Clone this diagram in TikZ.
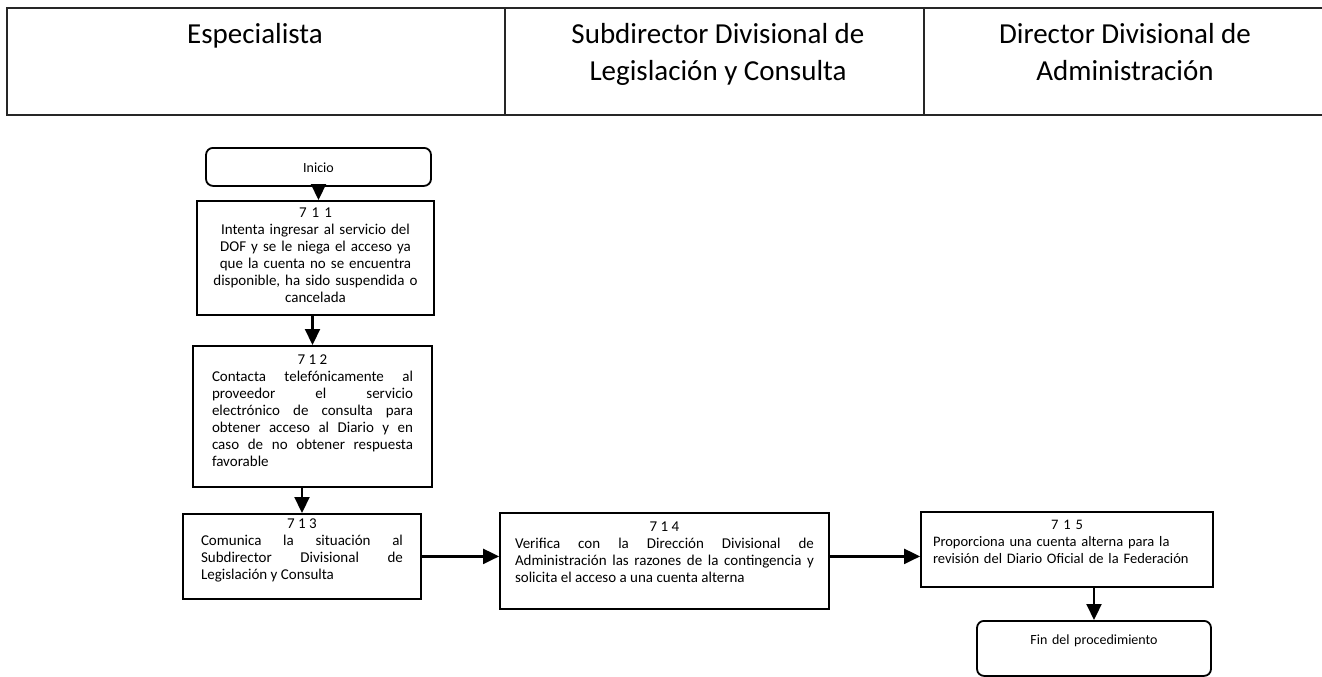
\documentclass[tikz,border=0pt]{standalone}
\usepackage{fontspec}
\setmainfont{Carlito}
\usetikzlibrary{arrows.meta,calc}
\setlength{\parindent}{0pt}
\newcommand{\stepnum}[1]{\hfill #1\hfill\null\par}
\tikzset{
  lanetext/.style={font=\fontsize{29}{37}\selectfont, align=center, anchor=north, inner sep=0pt},
  lane/.style={line width=1.2pt, draw=black!85},
  stepbox/.style={draw, line width=1.8pt, anchor=north, inner ysep=0pt,
    font=\fontsize{15}{17}\selectfont, align=justify},
  termbox/.style={draw, line width=1.8pt, rounded corners=7pt, anchor=north, inner ysep=0pt,
    font=\fontsize{14}{17}\selectfont, align=center},
  flow/.style={line width=2.2pt, -{Triangle[length=16pt,width=15pt]}}
}
\begin{document}
\begin{tikzpicture}[x=1pt,y=-1pt]
\useasboundingbox (0,0) rectangle (1322,677);
% header
\draw[lane] (1322,8) -- (7,8) -- (7,115) -- (1322,115);
\draw[lane] (505,8) -- (505,115);
\draw[lane] (924,8) -- (924,115);
\node[lanetext] (h1) at (255,23) {Especialista};
\node[lanetext] (h2) at (718,23) {Subdirector Divisional de\\Legislación y Consulta};
\node[lanetext] (h3) at (1125,23) {Director Divisional de\\Administración};
% boxes
\node[termbox, text width=211pt, inner xsep=7pt, text height=25pt, text depth=13pt] (inicio) at (318.5,147) {Inicio};
\node[stepbox, align=center, text width=211pt, inner xsep=13pt, text height=17pt, text depth=97pt] (b711) at (315.5,200)
  {7 1 1\\Intenta ingresar al servicio del\\DOF y se le niega el acceso ya\\que la cuenta no se encuentra\\disponible, ha sido suspendida o\\cancelada};
\node[stepbox, text width=201pt, inner xsep=19pt, text height=19pt, text depth=122pt] (b712) at (312.5,345)
  {\stepnum{7 1 2}Contacta telefónicamente al\linebreak proveedor el servicio\linebreak electrónico de consulta para\linebreak obtener acceso al Diario y en\linebreak caso de no obtener respuesta\linebreak favorable};
\node[stepbox, text width=202pt, inner xsep=18pt, text height=15pt, text depth=70pt] (b713) at (302,513)
  {\stepnum{7 1 3}Comunica la situación al\linebreak Subdirector Divisional de\linebreak Legislación y Consulta};
\node[stepbox, text width=299pt, inner xsep=15pt, text height=19pt, text depth=77pt] (b714) at (664.5,512)
  {\stepnum{7 1 4}Verifica con la Dirección Divisional de\linebreak Administración las razones de la contingencia y\linebreak solicita el acceso a una cuenta alterna};
\node[stepbox, align=left, font=\fontsize{14.5}{17}\selectfont, text width=268pt, inner xsep=12pt, text height=18pt, text depth=57pt] (b715) at (1067,511)
  {\hfill 7 1 5\hfill\null\\Proporciona una cuenta alterna para la\\\mbox{revisión del Diario Oficial de la Federación}};
\node[termbox, text width=220pt, inner xsep=7pt, text height=24pt, text depth=31pt] (fin) at (1094,620) {Fin del procedimiento};
% connectors
\draw[flow] (inicio.south) -- (inicio.south |- b711.north);
\draw[flow] (b712.north |- b711.south) -- (b712.north);
\draw[flow] (b713.north |- b712.south) -- (b713.north);
\draw[flow] (b713.east) -- (b713.east -| b714.west);
\draw[flow] (b713.east -| b714.east) -- (b713.east -| b715.west);
\draw[flow] (fin.north |- b715.south) -- (fin.north);
\end{tikzpicture}
\end{document}
